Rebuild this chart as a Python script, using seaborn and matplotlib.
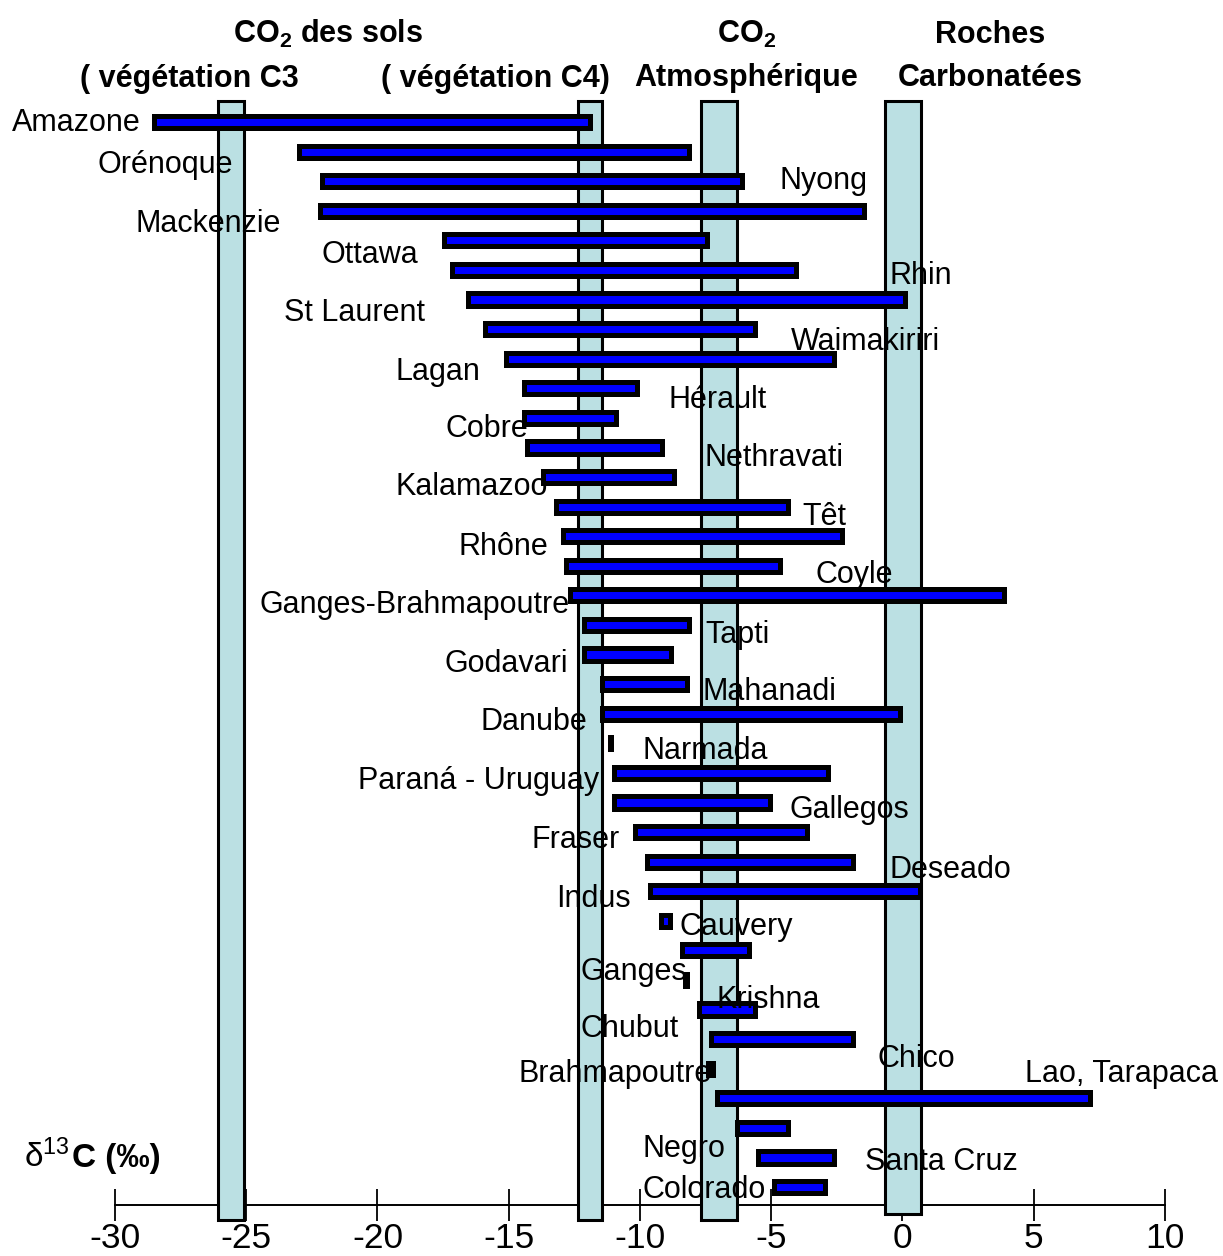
import numpy as np
import pandas as pd
import seaborn as sns
import matplotlib.pyplot as plt

# rivers, top to bottom, with their d13C range (per mil)
rivers = ["Amazone", "Orénoque", "Nyong", "Mackenzie", "Ottawa", "Rhin", "St Laurent",
          "Waimakiriri", "Lagan", "Hérault", "Cobre", "Nethravati", "Kalamazoo", "Têt",
          "Rhône", "Coyle", "Ganges-Brahmapoutre", "Tapti", "Godavari", "Mahanadi",
          "Danube", "Narmada", "Paraná - Uruguay", "Gallegos", "Fraser", "Deseado",
          "Indus", "Cauvery", "Ganges", "Krishna", "Chubut", "Chico", "Brahmapoutre",
          "Lao, Tarapaca", "Negro", "Santa Cruz", "Colorado"]
d13c_min = [-28.5, -23.0, -22.1, -22.2, -17.45, -17.15, -16.55, -15.9, -15.1, -14.4,
            -14.4, -14.3, -13.7, -13.2, -12.95, -12.8, -12.65, -12.15, -12.15, -11.45,
            -11.45, -11.15, -11.0, -11.0, -10.2, -9.75, -9.6, -9.2, -8.4, -8.27,
            -7.75, -7.3, -7.42, -7.05, -6.3, -5.5, -4.9]
d13c_max = [-11.9, -8.15, -6.1, -1.45, -7.45, -4.05, 0.1, -5.6, -2.6, -10.1,
            -10.9, -9.15, -8.7, -4.35, -2.3, -4.65, 3.85, -8.15, -8.8, -8.2,
            -0.1, -11.1, -2.85, -5.05, -3.65, -1.9, 0.65, -8.85, -5.85, -8.19,
            -5.6, -1.9, -7.2, 7.15, -4.35, -2.6, -2.95]

# source end-members (vertical bands)
sources = ["C3", "C4", "atmo", "carb"]
source_lo = [-26.06, -12.37, -7.68, -0.65]
source_hi = [-25.07, -11.44, -6.31, 0.69]

ticks = [-30, -25, -20, -15, -10, -5, 0, 5, 10]
tick_labels = ["-30", "-25", "-20", "-15", "-10", "-5", "0", "5", "10"]

# where each river name is written (x in per mil, baseline in row units)
label_x = [-33.92, -30.65, -4.70, -29.20, -22.15, -0.51, -23.56, -4.25, -19.33, -8.93,
           -17.39, -7.56, -19.30, -3.83, -16.93, -3.30, -24.48, -7.52, -17.43, -7.60,
           -16.06, -9.89, -20.74, -4.29, -14.15, -0.48, -13.20, -8.51, -12.25, -7.07,
           -12.25, -0.97, -14.61, 4.67, -9.89, -1.43, -9.89]
label_y = [0.30, 1.72, 2.25, 3.72, 4.77, 5.48, 6.73, 7.71, 8.72, 9.67,
           10.65, 11.63, 12.61, 13.62, 14.64, 15.58, 16.60, 17.61, 18.59, 19.54,
           20.55, 21.53, 22.55, 23.53, 24.54, 25.56, 26.54, 27.48, 29.00, 29.95,
           30.93, 31.94, 32.45, 32.45, 34.99, 35.43, 36.37]

df = pd.DataFrame({"river": rivers,
                   "start": d13c_min,
                   "span": np.array(d13c_max) - np.array(d13c_min)})

sns.set_style("white")
plt.rcParams["font.family"] = ["Liberation Sans", "DejaVu Sans"]
plt.rcParams["text.color"] = "black"
plt.rcParams["mathtext.fontset"] = "custom"
plt.rcParams["mathtext.rm"] = "Liberation Sans"
plt.rcParams["mathtext.bf"] = "Liberation Sans:bold"
plt.rcParams["mathtext.it"] = "Liberation Sans:italic"

fig = plt.figure(figsize=(12.23, 12.56), dpi=100)
ax = fig.add_axes([0, 0, 1, 1])

# bands
for lo, hi, name in zip(source_lo, source_hi, sources):
    bottom = 0.0334 if name == "carb" else 0.0287
    ax.axvspan(lo, hi, ymin=bottom, ymax=0.9196, facecolor="#BBE0E3",
               edgecolor="black", linewidth=2.2, zorder=3)

sns.barplot(data=df, x="span", y="river", left=df["start"].values, orient="y",
            width=0.41, color="#0000FF", saturation=1, errorbar=None,
            edgecolor="black", linewidth=3.6, zorder=4, ax=ax)

for name, x, y in zip(rivers, label_x, label_y):
    ax.text(x, y, name, fontsize=22, color="black", ha="left", va="baseline", zorder=5)

ax.set_xlim(-34.38, 12.21)
ax.set_ylim(38.33, -4.124)
ax.set_yticks([])
ax.set_xlabel("")
ax.set_ylabel("")
for s in ["top", "left", "right"]:
    ax.spines[s].set_visible(False)
ax.spines["bottom"].set_position(("data", 36.61))
ax.spines["bottom"].set_bounds(-30, 10)
ax.spines["bottom"].set_linewidth(1.4)
ax.spines["bottom"].set_color("black")
ax.set_xticks(ticks)
ax.set_xticklabels(tick_labels)
ax.tick_params(axis="x", bottom=True, direction="inout", length=23, width=1.3,
               pad=0.5, labelsize=25.5, colors="black")

# headers
hdr = dict(fontsize=22, fontweight="bold", ha="center", va="baseline")
fig.text(328 / 1223, 1 - 43 / 1256, r"CO$_\mathbf{2}$ des sols", **hdr)
fig.text(189 / 1223, 1 - 87 / 1256, "( végétation C3", **hdr)
fig.text(495 / 1223, 1 - 87 / 1256, "( végétation C4)", **hdr)
fig.text(747 / 1223, 1 - 43 / 1256, r"CO$_\mathbf{2}$", **hdr)
fig.text(746 / 1223, 1 - 86 / 1256, "Atmosphérique", **hdr)
fig.text(990 / 1223, 1 - 43 / 1256, "Roches", **hdr)
fig.text(990 / 1223, 1 - 86 / 1256, "Carbonatées", **hdr)

# axis title
fig.text(24 / 1223, 1 - 1167 / 1256, r"δ$^{13}$", fontsize=24, ha="left", va="baseline")
fig.text(72 / 1223, 1 - 1167 / 1256, "C (‰)", fontsize=24, fontweight="bold",
         ha="left", va="baseline")

fig.savefig("out.png", dpi=100)
